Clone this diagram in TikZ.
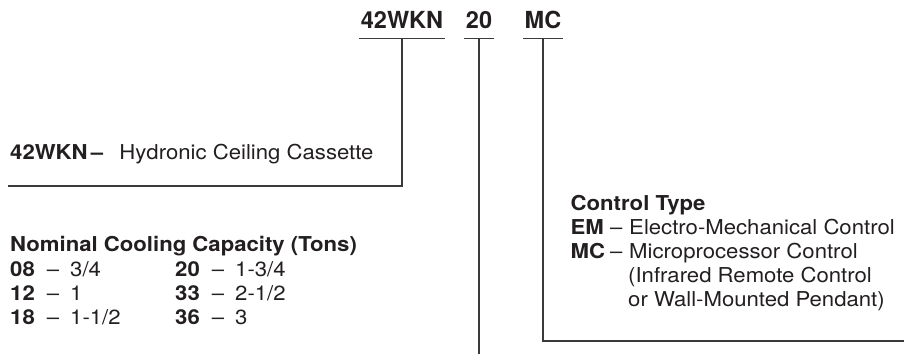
\documentclass[tikz,border=0pt]{standalone}
\usepackage{fontspec}
\setmainfont{TeX Gyre Heros}
\usepackage{graphicx}
\usepackage{xcolor}
\usepackage{tikz}
\usetikzlibrary{calc}
\definecolor{ink}{HTML}{231F20}
\definecolor{rule}{HTML}{3A3A3A}
\tikzset{
  conn/.style={draw=rule, line width=1.1pt},
  code/.style={text=ink, font=\bfseries\fontsize{23.5}{28}\selectfont, inner xsep=1.5pt, inner ysep=10pt, anchor=base},
  hd/.style={text=ink, font=\bfseries\fontsize{20.5}{24}\selectfont, inner sep=0pt, anchor=base west},
  txt/.style={text=ink, font=\fontsize{20.5}{24}\selectfont, inner sep=0pt, anchor=base west},
}
\newcommand{\wide}[1]{\scalebox{1.08}[1]{#1}}
\newcommand{\entry}[2]{\wide{\makebox[34pt][l]{\bfseries #1}\makebox[21.6pt][l]{--}#2}}
\newcommand{\ctlentry}[2]{\wide{\makebox[36.6pt][l]{\bfseries #1}\makebox[17.6pt][l]{--}#2}}

\begin{document}
\begin{tikzpicture}[x=1pt, y=-1pt]
  \useasboundingbox (0,0) rectangle (904,354);
  % model code
  \node[code] (wkn) at (402,28.3) {42WKN};
  \node[code] (cap) at (479,28.3) {20};
  \node[code] (ctl) at (543,28.3) {MC};
  \draw[conn] (wkn.south west) -- (wkn.south east);
  \draw[conn] (cap.south west) -- (cap.south east);
  \draw[conn] (ctl.south west) -- (ctl.south east);
  % leader ends
  \coordinate (e1) at (8,186);
  \coordinate (e2) at (479,354);
  \coordinate (e3) at (904,341);
  \draw[conn] (wkn.south) |- (e1);
  \draw[conn] (cap.south) -- (cap.south |- e2);
  \draw[conn] (ctl.south) |- (e3);
  % unit
  \node[txt] (unit) at (10,159.3) {\wide{\bfseries 42WKN\hspace{3pt}--\hspace{15pt}\mdseries Hydronic Ceiling Cassette}};
  % capacity
  \node[hd] (capT) at (10,251) {\wide{Nominal Cooling Capacity (Tons)}};
  \node[txt] (c08) at (10,276.5) {\entry{08}{3/4}};
  \node[txt] (c12) at (10,300.5) {\entry{12}{1}};
  \node[txt] (c18) at (10,324.5) {\entry{18}{1-1/2}};
  \node[txt] (c20) at (175,276.5) {\entry{20}{1-3/4}};
  \node[txt] (c33) at (175,300.5) {\entry{33}{2-1/2}};
  \node[txt] (c36) at (175,324.5) {\entry{36}{3}};
  % control type
  \node[hd] (ctlT) at (570.5,210.5) {\wide{Control Type}};
  \node[txt] (em) at (570.5,234.5) {\ctlentry{EM}{Electro-Mechanical Control}};
  \node[txt] (mc) at (570.5,258.5) {\ctlentry{MC}{Microprocessor Control}};
  \node[txt] (mc2) at (628,282.5) {\wide{(Infrared Remote Control}};
  \node[txt] (mc3) at (628,306.5) {\wide{or Wall-Mounted Pendant)}};
\end{tikzpicture}
\end{document}
